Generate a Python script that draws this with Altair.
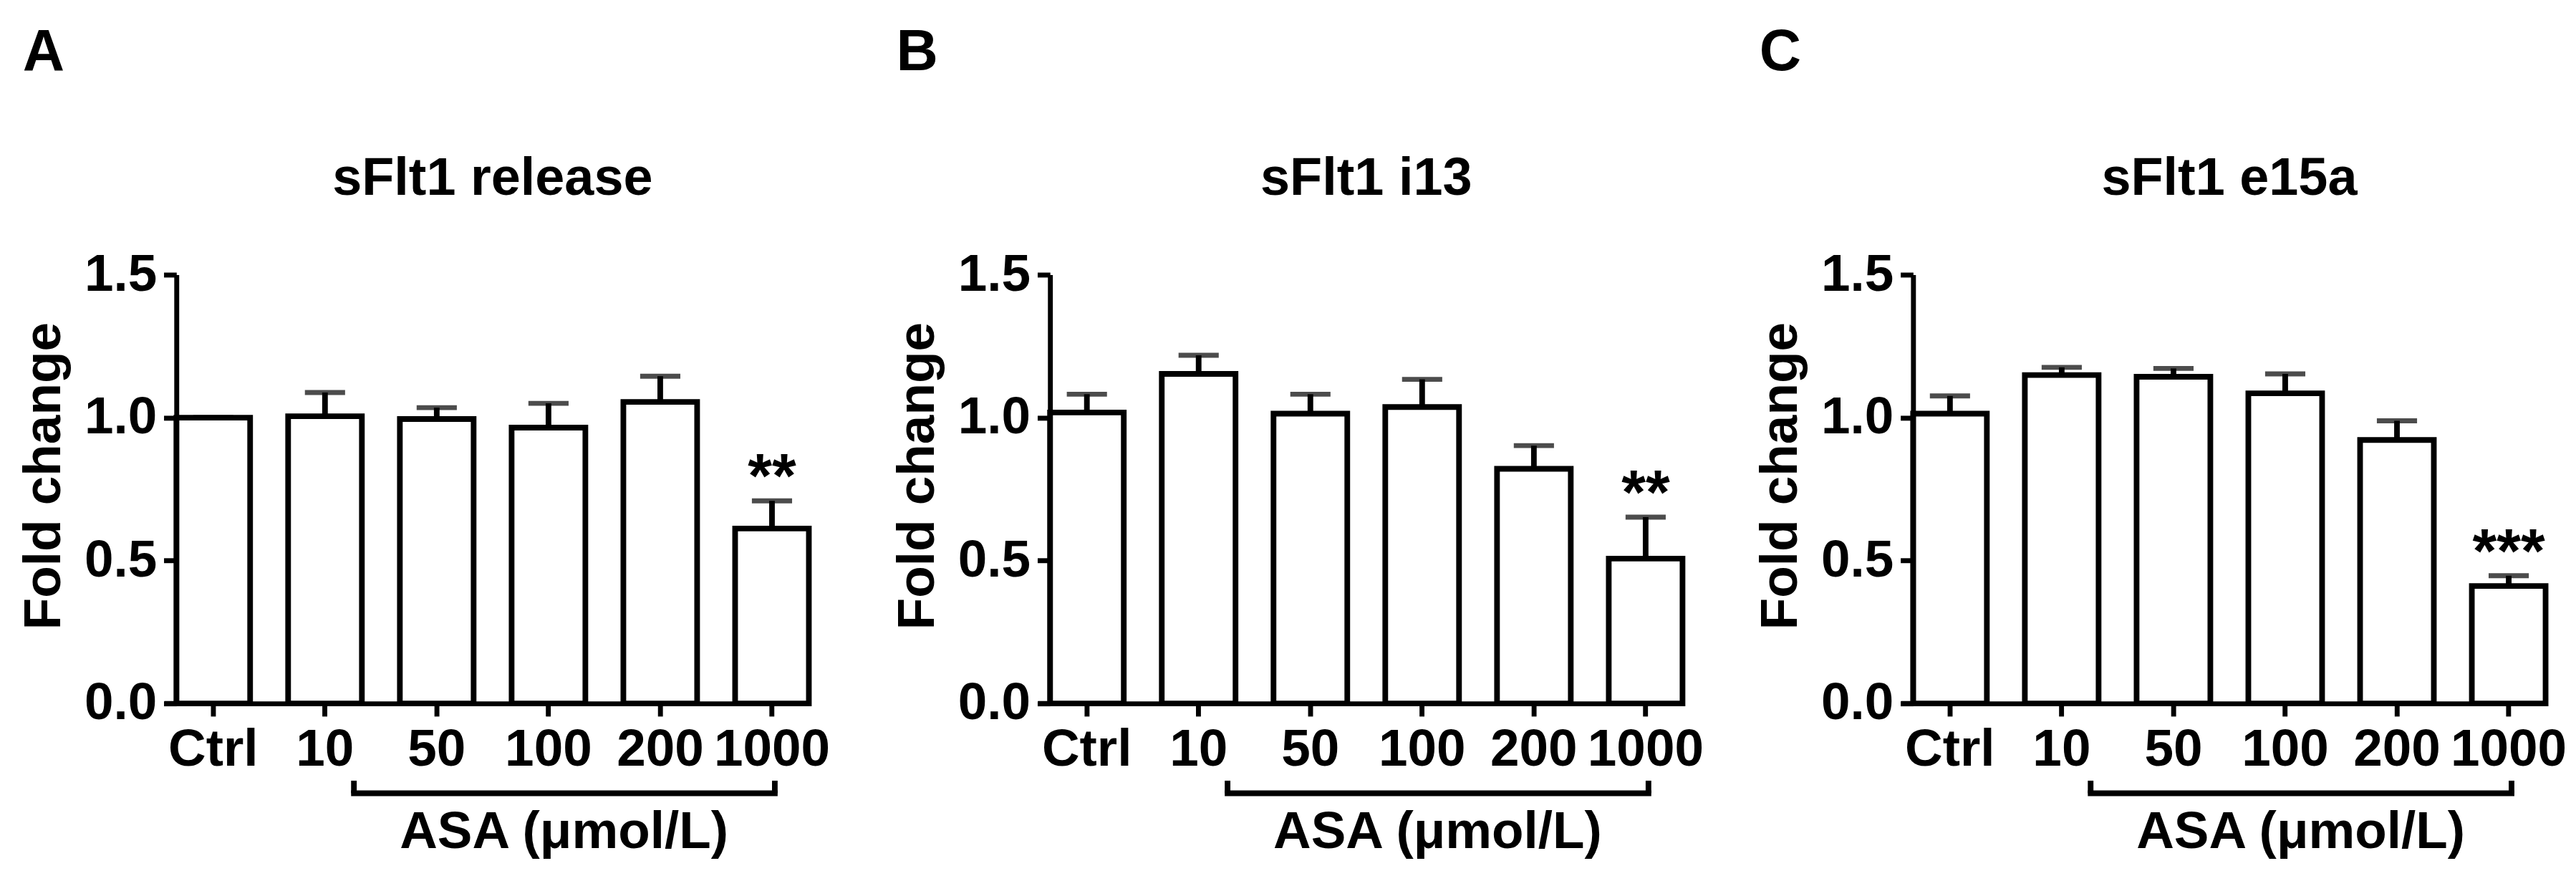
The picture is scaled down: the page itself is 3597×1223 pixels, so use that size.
import altair as alt
import pandas as pd

categories = ["Ctrl", "10", "50", "100", "200", "1000"]
panel_letters = ["A", "B", "C"]
panel_titles = ["sFlt1 release", "sFlt1 i13", "sFlt1 e15a"]

release_mean = [1.00, 1.005, 0.995, 0.965, 1.055, 0.612]
release_sem = [0.0, 0.083, 0.040, 0.085, 0.090, 0.097]
i13_mean = [1.018, 1.153, 1.014, 1.037, 0.821, 0.507]
i13_sem = [0.064, 0.065, 0.068, 0.097, 0.081, 0.145]
e15a_mean = [1.014, 1.149, 1.143, 1.085, 0.922, 0.411]
e15a_sem = [0.062, 0.027, 0.029, 0.068, 0.067, 0.036]
sig_labels = ["**", "**", "***"]

y_ticks = [0.0, 0.5, 1.0, 1.5]
y_title = "Fold change"
group_label = "ASA (μmol/L)"
group_start = "10"
group_end = "1000"

FONT = "Liberation Sans"
W, H = 897, 608

x_scale = alt.Scale(domain=categories, paddingInner=0.34, paddingOuter=0)
y_scale = alt.Scale(domain=[0, 1.5], nice=False, zero=False)
x_axis = alt.Axis(title=None, labelAngle=0, labelFont=FONT, labelFontSize=74,
                  labelFontWeight="bold", labelColor="black", labelPadding=12,
                  tickSize=18, tickWidth=7, tickColor="black", domainWidth=7,
                  domainColor="black", grid=False, zindex=1)
y_axis = alt.Axis(values=y_ticks, format=".1f", title=y_title, titleFont=FONT,
                  titleFontSize=74, titleFontWeight="bold", titleColor="black",
                  titleAngle=270, titleAlign="center", titleBaseline="alphabetic",
                  titleX=-165, titleY=285,
                  labelFont=FONT, labelFontSize=74, labelFontWeight="bold",
                  labelColor="black", labelPadding=10, tickSize=18, tickWidth=7,
                  tickColor="black", domainWidth=7, domainColor="black",
                  grid=False, zindex=1)


def X(field):
    return alt.X(f"{field}:N", scale=x_scale, axis=x_axis, sort=categories)


def Y(field):
    return alt.Y(f"{field}:Q", scale=y_scale, axis=y_axis)


def panel(letter, title, means, sems, sig):
    df = pd.DataFrame({"cat": categories, "mean": means, "sem": sems})
    df["upper"] = df["mean"] + df["sem"]
    base = alt.Chart(df)

    err = base.mark_rule(color="black", strokeWidth=8).encode(
        x=X("cat"), y=Y("mean"), y2="upper:Q")
    cap = base.mark_tick(color="black", size=57, thickness=7,
                         orient="horizontal").encode(x=X("cat"), y=Y("upper"))
    bars = base.mark_bar(fill="white", stroke="black", strokeWidth=8).encode(
        x=X("cat"), y=Y("mean"))

    sig_df = df[df["cat"] == group_end].assign(sig=sig)
    stars = alt.Chart(sig_df).mark_text(
        font=FONT, fontSize=88, fontWeight="bold", color="black",
        baseline="alphabetic", align="center", dy=-5).encode(
        x=X("cat"), y=Y("upper"), text="sig:N")

    axis_ext = alt.Chart(pd.DataFrame({"z": [0.0]})).mark_rule(
        color="black", strokeWidth=7).encode(
        x=alt.value(-17), x2=alt.value(0), y=Y("z"))

    br_df = pd.DataFrame({"c1": [group_start], "c2": [group_end], "by": [-0.314]})
    bracket = alt.Chart(br_df).mark_rule(
        color="black", strokeWidth=8, xOffset=41, x2Offset=4, strokeCap="square").encode(
        x=X("c1"), x2="c2:N", y=Y("by"))
    end_l = alt.Chart(pd.DataFrame({"cat": [group_start], "by": [-0.314], "by2": [-0.27]})).mark_rule(
        color="black", strokeWidth=8, xOffset=41).encode(x=X("cat"), y=Y("by"), y2="by2:Q")
    end_r = alt.Chart(pd.DataFrame({"cat": [group_end], "by": [-0.314], "by2": [-0.27]})).mark_rule(
        color="black", strokeWidth=8, xOffset=4).encode(x=X("cat"), y=Y("by"), y2="by2:Q")
    grp = alt.Chart(pd.DataFrame({"cat": ["100"], "ty": [-0.506], "label": [group_label]})).mark_text(
        font=FONT, fontSize=74, fontWeight="bold", color="black",
        baseline="alphabetic", align="center", dx=22).encode(
        x=X("cat"), y=Y("ty"), text="label:N")

    ttl = alt.Chart(pd.DataFrame({"t": [title]})).mark_text(
        font=FONT, fontSize=75, fontWeight="bold", color="black",
        baseline="alphabetic", align="center").encode(
        x=alt.value(W / 2), y=alt.value(-113), text="t:N")
    let = alt.Chart(pd.DataFrame({"t": [letter]})).mark_text(
        font=FONT, fontSize=82, fontWeight="bold", color="black",
        baseline="alphabetic", align="left").encode(
        x=alt.value(-218), y=alt.value(-290), text="t:N")

    return alt.layer(err, cap, bars, stars, axis_ext, bracket, end_l, end_r,
                     grp, ttl, let).properties(width=W, height=H)


pA = panel(panel_letters[0], panel_titles[0], release_mean, release_sem, sig_labels[0])
pB = panel(panel_letters[1], panel_titles[1], i13_mean, i13_sem, sig_labels[1])
pC = panel(panel_letters[2], panel_titles[2], e15a_mean, e15a_sem, sig_labels[2])

chart = alt.hconcat(pA, alt.hconcat(pB, pC, spacing=73), spacing=88).properties(
    padding={"left": 18, "top": 16, "right": 5, "bottom": 0},
    background="white",
).configure_view(stroke=None)

chart.save("out.html", embed_options={"renderer": "svg", "actions": False})
